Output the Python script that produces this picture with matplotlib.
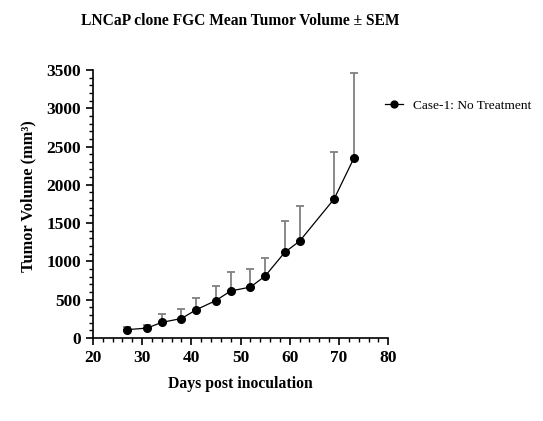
import matplotlib
matplotlib.use("Agg")
from matplotlib import pyplot as plt
from matplotlib.ticker import MultipleLocator

# data
days = [27, 31, 34, 38, 41, 45, 48, 52, 55, 59, 62, 69, 73]
mean_vol = [110, 130, 205, 255, 370, 490, 615, 665, 810, 1120, 1265, 1815, 2345]
upper_vol = [150, 170, 310, 380, 520, 680, 860, 905, 1040, 1530, 1720, 2430, 3460]
sem = [u - m for u, m in zip(upper_vol, mean_vol)]

plt.rcParams['font.family'] = ['Liberation Serif', 'DejaVu Serif']

fig = plt.figure(figsize=(5.43, 4.21), dpi=100)
ax = fig.add_axes([0.171, 0.197, 0.544, 0.637])

# upward-only error bars
ax.errorbar(days, mean_vol, yerr=[[0] * len(sem), sem], fmt='none',
            ecolor='#808080', elinewidth=1.3, capsize=3, capthick=1.3, zorder=1)
ax.plot(days, mean_vol, color='black', lw=0.9, marker='o', ms=5.5,
        label='Case-1: No Treatment', zorder=2)

ax.set_xlim(20, 80)
ax.set_ylim(0, 3500)
ax.xaxis.set_major_locator(MultipleLocator(10))
ax.xaxis.set_minor_locator(MultipleLocator(2))
ax.yaxis.set_major_locator(MultipleLocator(500))
ax.yaxis.set_minor_locator(MultipleLocator(100))

for s in ['top', 'right']:
    ax.spines[s].set_visible(False)
for s in ['left', 'bottom']:
    ax.spines[s].set_linewidth(1.2)
ax.tick_params(which='major', length=5, width=1.2, labelsize=12.5)
ax.tick_params(which='minor', length=3, width=1.0)
for lbl in ax.get_xticklabels() + ax.get_yticklabels():
    lbl.set_fontweight('bold')

ax.set_xlabel('Days post inoculation', fontsize=11.3, fontweight='bold', labelpad=7)
ax.set_ylabel('Tumor Volume (mm³)', fontsize=11.8, fontweight='bold')
ax.yaxis.set_label_coords(-0.19, 0.53)
ax.set_title('LNCaP clone FGC Mean Tumor Volume ± SEM', fontsize=11.2,
             fontweight='bold', pad=32)

ax.legend(loc='upper left', bbox_to_anchor=(0.99, 0.89), frameon=False,
          fontsize=9.6, handlelength=1.3, handletextpad=0.8, borderaxespad=0,
          borderpad=0, markerscale=0.9)

fig.savefig('out.png', dpi=100)
